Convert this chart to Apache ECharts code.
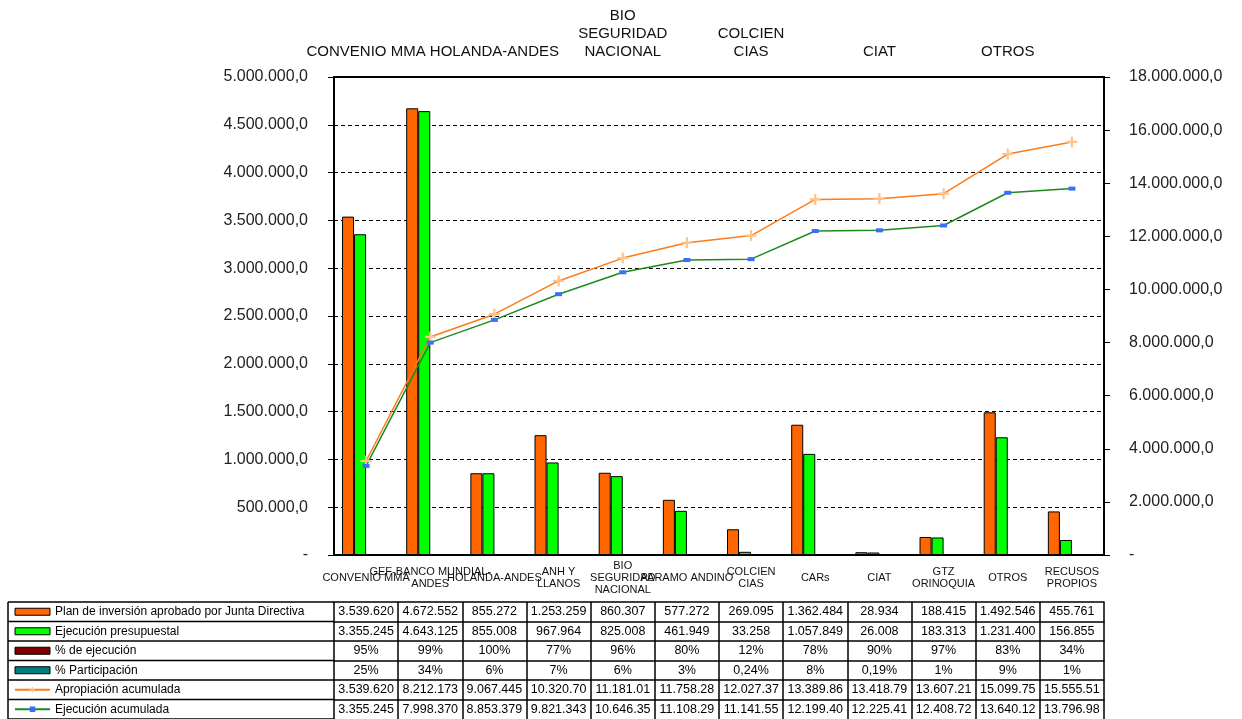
<!DOCTYPE html>
<html>
<head>
<meta charset="utf-8">
<script src="https://cdn.jsdelivr.net/npm/echarts@6/dist/echarts.min.js"></script>
<style>
  html, body { margin: 0; padding: 0; background: #fff; }
  #chart { width: 1242px; height: 719px; }
</style>
</head>
<body>
<div id="chart"></div>
<script>
// datos
var categories = ['CONVENIO MMA', 'GEF-BANCO MUNDIAL-\nANDES', 'HOLANDA-ANDES', 'ANH Y\nLLANOS',
  'BIO\nSEGURIDAD\nNACIONAL', 'PARAMO ANDINO', 'COLCIEN\nCIAS', 'CARs', 'CIAT',
  'GTZ\nORINOQUIA', 'OTROS', 'RECUSOS\nPROPIOS'];
var planInversion = [3539620, 4672552, 855272, 1253259, 860307, 577272, 269095, 1362484, 28934, 188415, 1492546, 455761];
var ejecucion = [3355245, 4643125, 855008, 967964, 825008, 461949, 33258, 1057849, 26008, 183313, 1231400, 156855];
var pctEjecucion = [0.95, 0.99, 1.00, 0.77, 0.96, 0.80, 0.12, 0.78, 0.90, 0.97, 0.83, 0.34];
var pctParticipacion = [0.25, 0.34, 0.06, 0.07, 0.06, 0.03, 0.0024, 0.08, 0.0019, 0.01, 0.09, 0.01];
var apropAcumulada = [3539620, 8212173, 9067445, 10320700, 11181010, 11758280, 12027370, 13389860, 13418790, 13607210, 15099750, 15555510];
var ejecAcumulada = [3355245, 7998370, 8853379, 9821343, 10646350, 11108290, 11141550, 12199400, 12225410, 12408720, 13640120, 13796980];

// layout de la tabla
var GRID_LEFT = 334;
var GRID_RIGHT_X = 1104;
var GRID_TOP = 77;
var AXIS_Y = 555;
var HEADER_H = 47;
var ROW_H = 19.5;
var FONT = '"Liberation Sans", Arial, sans-serif';

function miles(v) {
  return String(Math.round(v)).replace(/\B(?=(\d{3})+(?!\d))/g, '.');
}
function ejeFmt(v) {
  if (v === 0) return '-';
  return miles(v) + ',0';
}
function pct(v) {
  if (v < 0.01) return (v * 100).toFixed(2).replace('.', ',') + '%';
  return Math.round(v * 100) + '%';
}
// las celdas de Excel cortan el texto largo
function celda(v) {
  return miles(v).slice(0, 9);
}

var rows = [
  planInversion.map(miles),
  ejecucion.map(miles),
  pctEjecucion.map(pct),
  pctParticipacion.map(pct),
  apropAcumulada.map(celda),
  ejecAcumulada.map(celda)
];

function rowAxis(k) {
  var texts = rows[k];
  return {
    type: 'category',
    gridIndex: 0,
    position: 'bottom',
    offset: HEADER_H + k * ROW_H,
    data: categories,
    silent: true,
    axisLine: { show: true, onZero: false, lineStyle: { color: '#000', width: 1.5 } },
    axisTick: { show: true, interval: 0, length: ROW_H, lineStyle: { color: '#000', width: 1.5 } },
    axisLabel: {
      interval: 0, margin: ROW_H / 2, verticalAlign: 'middle',
      fontSize: 12.5, color: '#000', fontFamily: FONT,
      showMinLabel: true, showMaxLabel: true, hideOverlap: false,
      formatter: function (v, i) { return texts[i]; }
    },
    splitLine: { show: false }
  };
}

var xAxes = [
  {
    type: 'category',
    position: 'bottom',
    data: categories,
    axisLine: { onZero: false, lineStyle: { color: '#000', width: 2 } },
    axisTick: { interval: 0, length: HEADER_H, lineStyle: { color: '#000', width: 1.5 } },
    axisLabel: {
      interval: 0, margin: 23, verticalAlign: 'middle', lineHeight: 12,
      fontSize: 11, color: '#111', fontFamily: FONT,
      showMinLabel: true, showMaxLabel: true, hideOverlap: false
    }
  },
  {
    type: 'category',
    position: 'top',
    data: categories,
    axisLine: { onZero: false, lineStyle: { color: '#000', width: 2 } },
    axisTick: { interval: 0, length: 4, lineStyle: { color: '#000', width: 1 } },
    axisLabel: {
      interval: 1, margin: 16, lineHeight: 18,
      fontSize: 15, color: '#111', fontFamily: FONT,
      showMinLabel: true, hideOverlap: false
    }
  }
];
for (var k = 0; k < rows.length; k++) xAxes.push(rowAxis(k));

// bordes de la columna de leyenda
var bordes = [];
for (var r = 0; r <= rows.length; r++) {
  var y = AXIS_Y + HEADER_H + r * ROW_H;
  bordes.push({ type: 'line', shape: { x1: 8, y1: y, x2: GRID_LEFT, y2: y }, style: { stroke: '#000', lineWidth: 1.5 } });
}
bordes.push({ type: 'line', shape: { x1: 8, y1: AXIS_Y + HEADER_H, x2: 8, y2: 719 }, style: { stroke: '#000', lineWidth: 1.5 } });

var cruz = 'path://M4,0h2v4h4v2h-4v4h-2v-4h-4v-2h4z';
var nombres = ['Plan de inversión aprobado por Junta Directiva', 'Ejecución presupuestal',
  '% de ejecución', '% Participación', 'Apropiación acumulada', 'Ejecución acumulada'];

var option = {
  animation: false,
  backgroundColor: '#fff',
  textStyle: { fontFamily: FONT },
  grid: {
    left: GRID_LEFT, right: 1242 - GRID_RIGHT_X, top: GRID_TOP, bottom: 719 - AXIS_Y,
    containLabel: false
  },
  legend: {
    orient: 'vertical',
    left: 14,
    top: AXIS_Y + HEADER_H,
    height: 160,
    padding: 0,
    itemWidth: 35,
    itemHeight: 7,
    itemGap: 0,
    selectedMode: false,
    itemStyle: { borderWidth: 1 },
    data: [
      { name: nombres[0], icon: 'rect' },
      { name: nombres[1], icon: 'rect' },
      { name: nombres[2], icon: 'rect' },
      { name: nombres[3], icon: 'rect' },
      nombres[4],
      nombres[5]
    ],
    textStyle: { fontSize: 12, color: '#000', lineHeight: ROW_H, fontFamily: FONT }
  },
  graphic: bordes,
  xAxis: xAxes,
  yAxis: [
    {
      type: 'value', min: 0, max: 5000000, interval: 500000,
      axisLine: { show: true, lineStyle: { color: '#000', width: 2 } },
      axisTick: { show: true, length: 6, lineStyle: { color: '#000' } },
      axisLabel: { margin: 26, fontSize: 16, color: '#222', fontFamily: FONT, formatter: ejeFmt },
      splitLine: { show: true, lineStyle: { color: '#000', width: 1, type: [4, 3] } }
    },
    {
      type: 'value', min: 0, max: 18000000, interval: 2000000,
      axisLine: { show: true, lineStyle: { color: '#000', width: 2 } },
      axisTick: { show: true, length: 6, lineStyle: { color: '#000' } },
      axisLabel: { margin: 25, fontSize: 16, color: '#222', fontFamily: FONT, formatter: ejeFmt },
      splitLine: { show: false }
    }
  ],
  series: [
    {
      name: nombres[0], type: 'bar', data: planInversion,
      barGap: '0%', barCategoryGap: '25%',
      itemStyle: { color: '#FF6600', borderColor: '#000', borderWidth: 1 }
    },
    {
      name: nombres[1], type: 'bar', data: ejecucion,
      itemStyle: { color: '#00FF00', borderColor: '#000', borderWidth: 1 }
    },
    {
      name: nombres[2], type: 'bar', data: pctEjecucion,
      itemStyle: { color: '#800000', borderColor: '#000', borderWidth: 0 }
    },
    {
      name: nombres[3], type: 'bar', data: pctParticipacion,
      itemStyle: { color: '#008080', borderColor: '#000', borderWidth: 0 }
    },
    {
      name: nombres[4], type: 'line', yAxisIndex: 1, data: apropAcumulada,
      symbol: cruz, symbolSize: 11,
      lineStyle: { color: '#FF7A1A', width: 1.5 },
      itemStyle: { color: '#FFC48A' }
    },
    {
      name: nombres[5], type: 'line', yAxisIndex: 1, data: ejecAcumulada,
      symbol: 'rect', symbolSize: [7, 4],
      lineStyle: { color: '#1E8A1E', width: 1.5 },
      itemStyle: { color: '#3A6EFF' }
    }
  ]
};

var myChart = echarts.init(document.getElementById('chart'));
myChart.setOption(option);
</script>
</body>
</html>
